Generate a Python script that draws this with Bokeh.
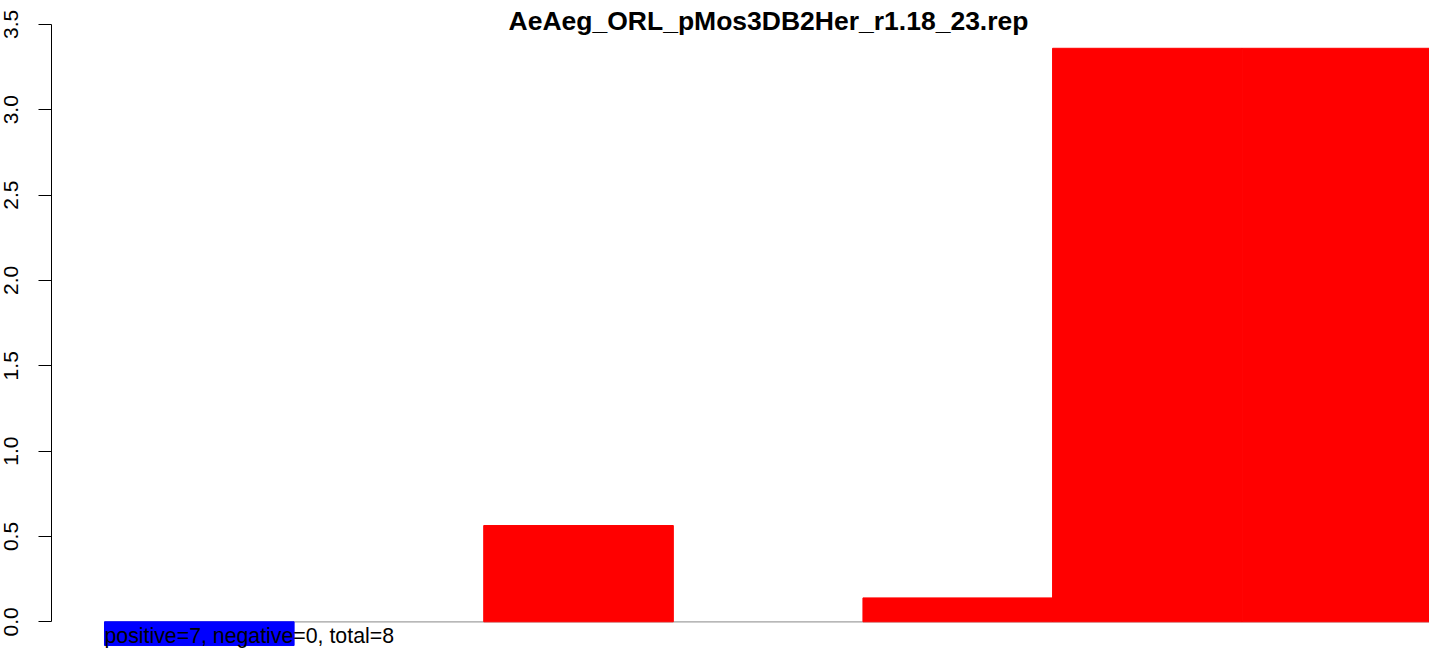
from bokeh.plotting import figure
from bokeh.models import Range1d, FixedTicker, NumeralTickFormatter, Label, ColumnDataSource
from bokeh.embed import file_html
from bokeh.resources import INLINE

title_text = "AeAeg_ORL_pMos3DB2Her_r1.18_23.rep"
subtitle_text = "positive=7, negative=0, total=8"

bar_index = [0, 1, 2, 3, 4, 5, 6]
bar_values = [-0.139, 0.0, 0.564, 0.0, 0.14, 3.36, 3.36]
bar_colors = ["#0000FF", "#FF0000", "#FF0000", "#FF0000", "#FF0000", "#FF0000", "#FF0000"]
y_ticks = [0.0, 0.5, 1.0, 1.5, 2.0, 2.5, 3.0, 3.5]

src = ColumnDataSource(dict(
    left=bar_index,
    right=[i + 1 for i in bar_index],
    top=bar_values,
    bottom=[0.0] * len(bar_index),
    color=bar_colors,
    lcolor=[c if v != 0 else None for c, v in zip(bar_colors, bar_values)],
))

p = figure(width=1429, height=649, output_backend="svg", toolbar_location=None,
           x_range=Range1d(-0.2795, 6.988), y_range=Range1d(-0.1623, 3.640),
           x_axis_location=None,
           min_border_left=51, min_border_right=0, min_border_top=0, min_border_bottom=0)
p.outline_line_color = None
p.grid.visible = False
p.background_fill_color = "white"
p.border_fill_color = "white"

p.segment(x0=[0], y0=[0], x1=[len(bar_index)], y1=[0], line_color="#A0A0A0", line_width=1.2)
p.quad(left="left", right="right", top="top", bottom="bottom", fill_color="color",
       line_color="lcolor", line_width=1, source=src)

ax = p.yaxis[0]
ax.bounds = (0, 3.5)
ax.ticker = FixedTicker(ticks=y_ticks)
ax.formatter = NumeralTickFormatter(format="0.0")
ax.major_label_orientation = "vertical"
ax.major_label_text_font = "Liberation Sans"
ax.major_label_text_font_size = "21px"
ax.major_label_text_color = "black"
ax.major_tick_out = 13
ax.major_tick_in = 0
ax.minor_tick_out = 0
ax.minor_tick_in = 0
ax.major_label_standoff = 20
ax.axis_line_color = "black"
ax.major_tick_line_color = "black"

p.add_layout(Label(x=3.502, y=3.517, text=title_text, text_align="center",
                   text_baseline="alphabetic", text_font="Liberation Sans",
                   text_font_style="bold", text_font_size="26.5px", text_color="black"))
p.add_layout(Label(x=0, y=-0.085, text=subtitle_text, text_align="left",
                   text_baseline="alphabetic", text_font="Liberation Sans",
                   text_font_size="21.3px", text_color="black"))

open("out.html", "w").write(file_html(p, INLINE))
